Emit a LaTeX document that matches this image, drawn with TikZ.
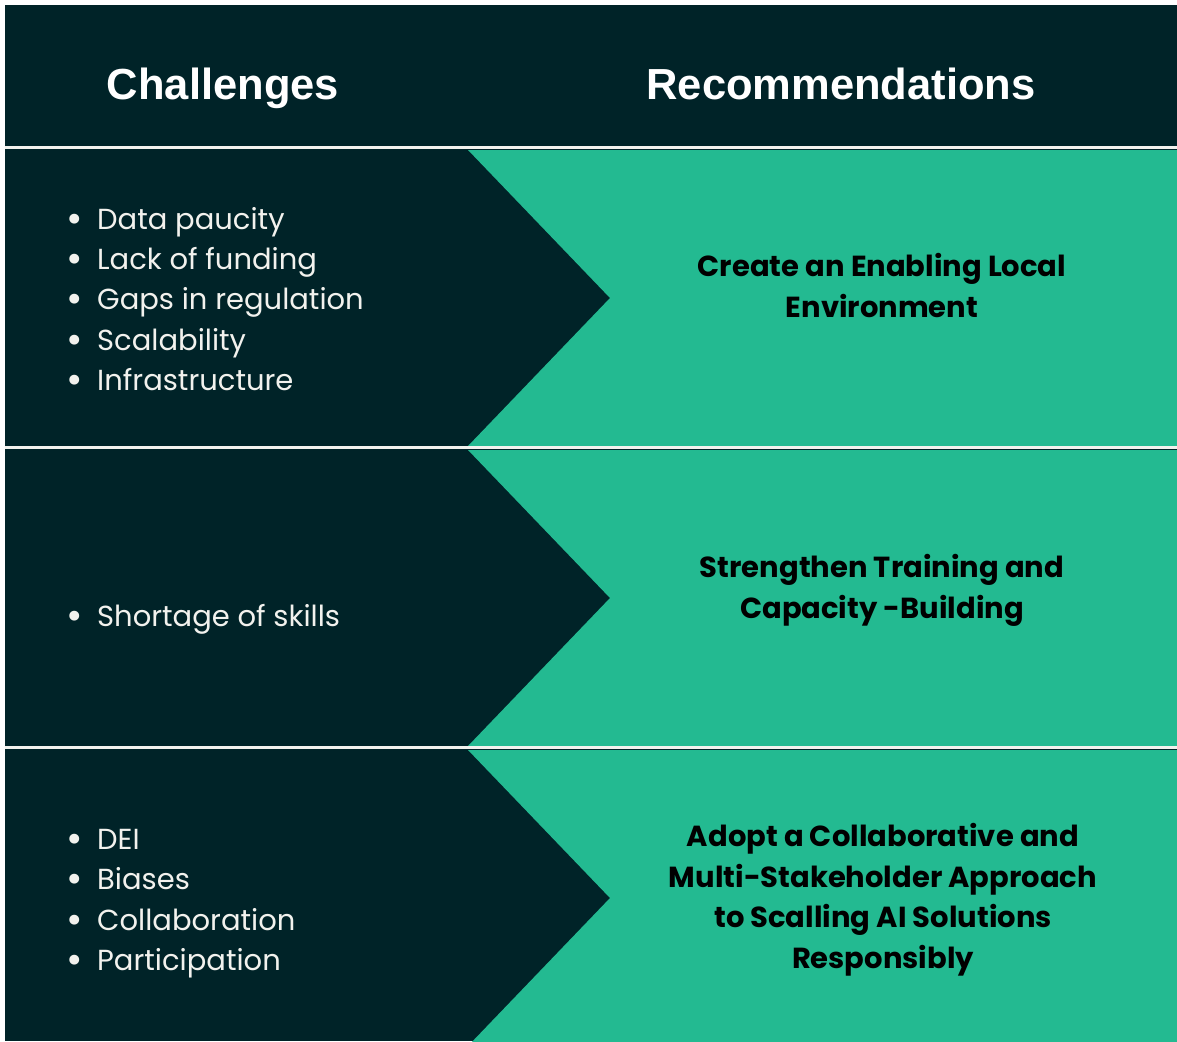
\documentclass[tikz,border=0pt]{standalone}
\usepackage{fontspec}
\setmainfont{Poppins}
\newfontfamily\headfont{Liberation Sans}
\definecolor{panel}{HTML}{002328}
\definecolor{accent}{HTML}{23BA91}
\definecolor{rule}{HTML}{F2F2EE}
\begin{document}
\begin{tikzpicture}[x=1pt,y=-1pt,
  head/.style={text=white,font=\headfont\bfseries\fontsize{43.5}{48}\selectfont,inner sep=0pt,anchor=base},
  item/.style={text=rule,font=\fontsize{29}{40}\selectfont,inner sep=0pt,anchor=base west},
  rec/.style={text=black,font=\bfseries\fontsize{29}{40.5}\selectfont,align=center,inner sep=0pt},
  band/.style={fill=accent,draw=none},
  sep/.style={draw=rule,line width=3pt}]
  % canvas and dark panel
  \fill[white] (0,0) rectangle (1177,1041);
  \useasboundingbox (0,0) rectangle (1177,1041);
  \fill[panel] (5,5) rectangle (1177,1041);
  % green chevron bands, one per row
  \begin{scope}
    \clip (5,5) rectangle (1177,1041);
    \foreach \t/\b/\m in {150/446/298, 450/746/598, 750/1046/898}
      \path[band] (468,\t) -- (1177,\t) -- (1177,\b) -- (468,\b) -- (610,\m) -- cycle;
  \end{scope}
  % separators
  \draw[sep] (5,147.5) -- (1177,147.5);
  \draw[sep] (5,447.5) -- (1177,447.5);
  \draw[sep] (5,747.5) -- (1177,747.5);
  % headers
  \node[head] (hc) at (223,99) {Challenges};
  \node[head] (hr) at (841,99) {Recommendations};
  % challenge lists: bullet hangs to the left of the item text
  \newcommand{\bul}[1]{\llap{\makebox[44pt][c]{\raisebox{-3pt}{\fontsize{40}{40}\selectfont •}}}#1}
  \node[item] (c1a) at (97,229) {\bul{Data paucity}};
  \node[item] (c1b) at (97,269) {\bul{Lack of funding}};
  \node[item] (c1c) at (97,309) {\bul{Gaps in regulation}};
  \node[item] (c1d) at (97,350) {\bul{Scalability}};
  \node[item] (c1e) at (97,390) {\bul{Infrastructure}};
  \node[item] (c2a) at (97,626) {\bul{Shortage of skills}};
  \node[item] (c3a) at (97,849) {\bul{DEI}};
  \node[item] (c3b) at (97,889) {\bul{Biases}};
  \node[item] (c3c) at (97,930) {\bul{Collaboration}};
  \node[item] (c3d) at (97,970) {\bul{Participation}};
  % recommendations
  \node[rec] (r1) at (882,285.5) {Create an Enabling Local\\Environment};
  \node[rec] (r2) at (882,590.5) {Strengthen Training and\\Capacity -Building};
  \node[rec] (r3) at (883,899.5) {Adopt a Collaborative and\\Multi-Stakeholder Approach\\to Scalling AI Solutions\\Responsibly};
\end{tikzpicture}
\end{document}
